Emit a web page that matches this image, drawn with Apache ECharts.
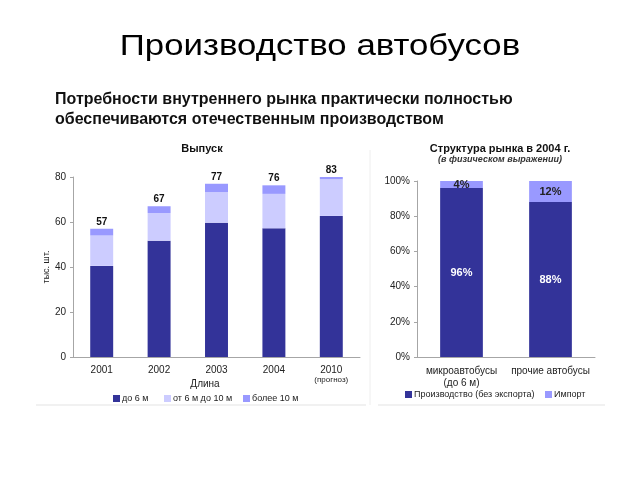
<!DOCTYPE html>
<html><head><meta charset="utf-8">
<script src="https://cdn.jsdelivr.net/npm/echarts@6/dist/echarts.min.js"></script>
<style>html,body{margin:0;padding:0;background:#fff}#c{width:640px;height:480px}</style>
</head><body><div id="c"></div>
<script>
var years = ['2001', '2002', '2003', '2004', '2010'];
var upTo6 = [40.5, 51.7, 59.7, 57.2, 62.7];
var from6to10 = [13.5, 12.3, 13.6, 15.3, 16.3];
var over10 = [3, 3, 3.7, 3.8, 2];
var totalLabels = ['57', '67', '77', '76', '83'];
var yTicksLeft = [0, 20, 40, 60, 80];

var marketCats = ['микроавтобусы\n(до 6 м)', 'прочие автобусы'];
var production = [96, 88];
var importShare = [4, 12];

var FONT = '"Liberation Sans", Arial, sans-serif';
var chart = echarts.init(document.getElementById('c'));
var dark = '#333399', light = '#ccccff', mid = '#9999ff';
var axisGray = '#a6a6a6', txt = '#222';

function leg(name, left, top) {
  return { data: [name], left: left, top: top, itemWidth: 7, itemHeight: 7, icon: 'rect', padding: 0,
    textStyle: { fontFamily: FONT, fontSize: 9, color: txt, padding: [0, 0, 0, -3] } };
}

chart.setOption({
  backgroundColor: '#fff',
  animation: false,
  textStyle: { fontFamily: FONT },
  title: [
    { text: 'Потребности внутреннего рынка практически полностью\nобеспечиваются отечественным производством', left: 50, top: 85, textStyle: { fontFamily: FONT, fontSize: 16, fontWeight: 'bold', color: '#111', lineHeight: 20 } },
    { text: 'Выпуск', left: 197, textAlign: 'center', top: 138, textStyle: { fontFamily: FONT, fontSize: 11, fontWeight: 'bold', color: '#111' } },
    { text: 'Структура рынка в 2004 г.', left: 495, textAlign: 'center', top: 138, textStyle: { fontFamily: FONT, fontSize: 11, fontWeight: 'bold', color: '#111' } },
    { text: '(в физическом выражении)', left: 495, textAlign: 'center', top: 150, textStyle: { fontFamily: FONT, fontSize: 9, fontStyle: 'italic', fontWeight: 'bold', color: '#333' } },
    { text: 'Длина', left: 200, textAlign: 'center', top: 374, textStyle: { fontFamily: FONT, fontSize: 10, fontWeight: 'normal', color: txt } }
  ],
  legend: [
    leg('до 6 м', 113, 394),
    leg('от 6 м до 10 м', 164, 394),
    leg('более 10 м', 243, 394),
    leg('Производство (без экспорта)', 405, 390),
    leg('Импорт', 545, 390)
  ],
  grid: [
    { left: 73, top: 177, width: 287, height: 180 },
    { left: 417, top: 181, width: 178, height: 176 }
  ],
  xAxis: [
    { type: 'category', gridIndex: 0, data: years,
      axisLine: { lineStyle: { color: axisGray } }, axisTick: { show: false },
      axisLabel: { interval: 0, fontFamily: FONT, fontSize: 10, color: txt, margin: 8,
        formatter: function (v) { return v === '2010' ? '{a|2010}\n{b|(прогноз)}' : '{a|' + v + '}'; },
        rich: { a: { fontFamily: FONT, fontSize: 10, color: txt, lineHeight: 10 }, b: { fontFamily: FONT, fontSize: 8, color: txt, lineHeight: 10 } } } },
    { type: 'category', gridIndex: 1, data: marketCats,
      axisLine: { lineStyle: { color: axisGray } }, axisTick: { show: false },
      axisLabel: { interval: 0, fontFamily: FONT, fontSize: 10, color: txt, margin: 8, lineHeight: 12 } }
  ],
  yAxis: [
    { type: 'value', gridIndex: 0, min: yTicksLeft[0], max: yTicksLeft[yTicksLeft.length - 1], interval: 20,
      name: 'тыс. шт.', nameLocation: 'middle', nameGap: 22, nameRotate: 90,
      nameTextStyle: { fontFamily: FONT, fontSize: 9, color: txt },
      axisLine: { show: true, lineStyle: { color: axisGray } }, axisTick: { show: true, length: 3, lineStyle: { color: axisGray } },
      splitLine: { show: false }, axisLabel: { fontFamily: FONT, fontSize: 10, color: txt, margin: 7 } },
    { type: 'value', gridIndex: 1, min: 0, max: 100, interval: 20,
      axisLine: { show: true, lineStyle: { color: axisGray } }, axisTick: { show: true, length: 3, lineStyle: { color: axisGray } },
      splitLine: { show: false }, axisLabel: { fontFamily: FONT, fontSize: 10, color: txt, margin: 7, formatter: '{value}%' } }
  ],
  series: [
    { name: 'до 6 м', type: 'bar', stack: 'a', xAxisIndex: 0, yAxisIndex: 0, data: upTo6, barWidth: '40%', itemStyle: { color: dark } },
    { name: 'от 6 м до 10 м', type: 'bar', stack: 'a', xAxisIndex: 0, yAxisIndex: 0, data: from6to10, itemStyle: { color: light } },
    { name: 'более 10 м', type: 'bar', stack: 'a', xAxisIndex: 0, yAxisIndex: 0, data: over10, itemStyle: { color: mid },
      label: { show: true, position: 'top', distance: 2, fontFamily: FONT, fontSize: 10, fontWeight: 'bold', color: '#111',
        formatter: function (p) { return totalLabels[p.dataIndex]; } } },
    { name: 'Производство (без экспорта)', type: 'bar', stack: 'b', xAxisIndex: 1, yAxisIndex: 1, data: production, barWidth: '48%', itemStyle: { color: dark },
      label: { show: true, position: 'inside', fontFamily: FONT, fontSize: 11, fontWeight: 'bold', color: '#fff', formatter: '{c}%' } },
    { name: 'Импорт', type: 'bar', stack: 'b', xAxisIndex: 1, yAxisIndex: 1, data: importShare, itemStyle: { color: mid },
      label: { show: true, position: 'inside', fontFamily: FONT, fontSize: 11, fontWeight: 'bold', color: '#222', formatter: '{c}%' } }
  ],
  graphic: [
    { type: 'text', x: 320, y: 47, scaleX: 1.2, originX: 0, originY: 0,
      style: { text: 'Производство автобусов', font: 'normal 29px ' + FONT, fill: '#000', textAlign: 'center', textVerticalAlign: 'middle' } },
    { type: 'line', shape: { x1: 36, y1: 405, x2: 366, y2: 405 }, style: { stroke: '#e3e3e3', lineWidth: 1 } },
    { type: 'line', shape: { x1: 370, y1: 150, x2: 370, y2: 405 }, style: { stroke: '#eeeeee', lineWidth: 1 } },
    { type: 'line', shape: { x1: 378, y1: 405, x2: 605, y2: 405 }, style: { stroke: '#e3e3e3', lineWidth: 1 } }
  ]
});
</script>
</body></html>
